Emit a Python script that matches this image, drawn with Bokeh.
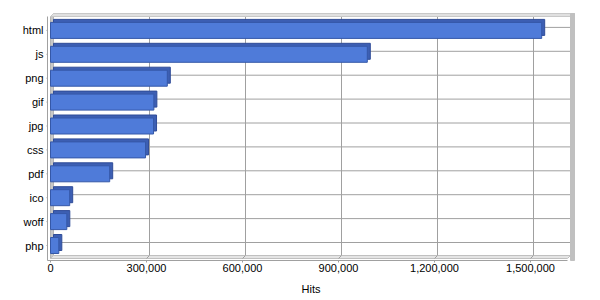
from bokeh.plotting import figure
from bokeh.models import Range1d, FixedTicker, NumeralTickFormatter
from bokeh.embed import file_html
from bokeh.resources import INLINE

# ---- data ----
categories = ["html", "js", "png", "gif", "jpg", "css", "pdf", "ico", "woff", "php"]
hits = [1535000, 990000, 365000, 323000, 322000, 297000, 185000, 60000, 51000, 26000]
x_ticks = [0, 300000, 600000, 900000, 1200000, 1500000]

n = len(categories)
ypos = [n - 1 - i for i in range(n)]  # html at top

# ---- scale helpers (pixel layout of the frame) ----
PX_PER_X = 96 / 300000.0     # px per hit
PX_PER_Y = 23.9              # px per category
FRAME_L, FRAME_R, FRAME_T, FRAME_B = 46, 575, 12, 262
X0_PX = 50                   # px of value 0
Y0_PX = 245                  # px of the lowest category


def X(px):
    return (px - X0_PX) / PX_PER_X


def Y(px):
    return (Y0_PX - px) / PX_PER_Y


dx = X(53) - X(50)
dy = Y(242) - Y(245)

p = figure(width=600, height=300, output_backend="svg", toolbar_location=None,
           x_range=Range1d(X(FRAME_L), X(FRAME_R)),
           y_range=Range1d(Y(FRAME_B), Y(FRAME_T)),
           min_border_left=FRAME_L, min_border_right=600 - FRAME_R,
           min_border_top=FRAME_T, min_border_bottom=300 - FRAME_B)
p.outline_line_color = None
p.xgrid.visible = False
p.ygrid.visible = False
p.background_fill_color = "white"
p.border_fill_color = "white"

# walls geometry
x0f, x1f, y0f, y1f = X(50), X(567), Y(258), Y(16)
x0b, x1b, y0b, y1b = x0f + dx, x1f + dx, y0f + dy, y1f + dy

grid_col = "#a0a0a0"

# back wall gridlines (vertical)
vt = [t for t in x_ticks if t > 0]
p.segment(x0=[t + dx for t in vt], y0=[y0b] * len(vt), x1=[t + dx for t in vt], y1=[y1b] * len(vt),
          line_color=grid_col, line_width=1)
# back wall gridlines (horizontal, at category centres)
p.segment(x0=[x0b] * n, y0=[v + dy for v in ypos], x1=[x1b] * n, y1=[v + dy for v in ypos],
          line_color=grid_col, line_width=1)

# left wall
p.patch(x=[x0f, x0f, x0b, x0b], y=[y0f, y1f, y1b, y0b],
        fill_color="#c8c8c8", line_color="#b4b4b4", line_width=1)
# floor
p.patch(x=[x0f, x1f, x1b, x0b], y=[y0f, y0f, y0b, y0b],
        fill_color="#e4e4e4", line_color="#c0c0c0", line_width=1)
# floor tick diagonals
p.segment(x0=vt, y0=[y0f] * len(vt), x1=[t + dx for t in vt], y1=[y0b] * len(vt),
          line_color=grid_col, line_width=1)
# top edge
p.patch(x=[x0f, x0b, x1b + X(574) - X(570), x1f + X(574) - X(570)],
        y=[y1f, y1b, y1b, y1f], fill_color="#e0e0e0", line_color="#c8c8c8", line_width=1)
# right wall
p.quad(left=[X(570)], right=[X(574)], bottom=[Y(260)], top=[y1b],
       fill_color="#c0c0c0", line_color="#c0c0c0")

# front edges (axis lines)
p.segment(x0=[X(47)], y0=[Y(260)], x1=[X(47)], y1=[y1f], line_color=grid_col, line_width=1)
p.segment(x0=[X(47)], y0=[Y(260)], x1=[X(567)], y1=[Y(260)], line_color=grid_col, line_width=1)
# left tick marks
p.segment(x0=[X(44)] * n, y0=ypos, x1=[X(47)] * n, y1=ypos, line_color=grid_col, line_width=1)
# bottom tick marks
p.segment(x0=x_ticks, y0=[Y(260)] * len(x_ticks), x1=x_ticks, y1=[Y(263)] * len(x_ticks),
          line_color=grid_col, line_width=1)

# bars: depth face then front face
h = 16 / PX_PER_Y
p.quad(left=[0 + dx] * n, right=[v + dx for v in hits],
       bottom=[y - h / 2 + dy for y in ypos], top=[y + h / 2 + dy for y in ypos],
       fill_color="#3d5fb3", line_color="#2f4c98", line_width=1)
p.quad(left=[0] * n, right=hits,
       bottom=[y - h / 2 for y in ypos], top=[y + h / 2 for y in ypos],
       fill_color="#4f7bd9", line_color="#3558a8", line_width=1)

# axes
font = "Liberation Sans"
p.yaxis.ticker = FixedTicker(ticks=ypos)
p.yaxis.major_label_overrides = {y: c for y, c in zip(ypos, categories)}
p.yaxis.axis_line_color = None
p.yaxis.major_tick_line_color = None
p.yaxis.major_tick_out = 0
p.yaxis.major_tick_in = 0
p.yaxis.minor_tick_line_color = None
p.yaxis.major_label_standoff = 3
p.yaxis.major_label_text_font = font
p.yaxis.major_label_text_font_size = "11px"
p.yaxis.major_label_text_color = "black"

p.xaxis.ticker = FixedTicker(ticks=x_ticks)
p.xaxis.formatter = NumeralTickFormatter(format="0,0")
p.xaxis.axis_line_color = None
p.xaxis.major_tick_line_color = None
p.xaxis.major_tick_out = 0
p.xaxis.major_tick_in = 0
p.xaxis.minor_tick_line_color = None
p.xaxis.major_label_standoff = 1
p.xaxis.major_label_text_font = font
p.xaxis.major_label_text_font_size = "11px"
p.xaxis.major_label_text_color = "black"
p.xaxis.axis_label = "Hits"
p.xaxis.axis_label_text_font = font
p.xaxis.axis_label_text_font_size = "11px"
p.xaxis.axis_label_text_font_style = "normal"
p.xaxis.axis_label_text_color = "black"
p.xaxis.axis_label_standoff = 8

open("out.html", "w").write(file_html(p, INLINE))
